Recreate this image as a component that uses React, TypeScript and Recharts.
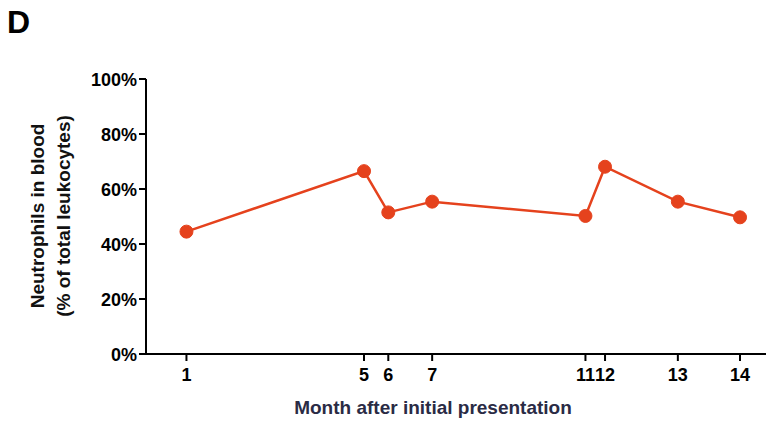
import { LineChart, Line, XAxis, YAxis } from "recharts";

// sampling time expressed on the plotted month scale (visits are not evenly spaced)
const timePoints = [1, 5.17, 5.74, 6.77, 10.37, 10.83, 12.54, 14];
const monthLabels = ["1", "5", "6", "7", "11", "12", "13", "14"];
const neutrophilPct = [44.5, 66.5, 51.5, 55.4, 50.2, 68.1, 55.4, 49.7];
const yTicks = [0, 20, 40, 60, 80, 100];

const data = timePoints.map((t, i) => ({ t, pct: neutrophilPct[i] }));

const RED = "#E5421D";
const FONT = "'Liberation Sans', Arial, Helvetica, sans-serif";

const labelFor = (t: number) => {
  const i = timePoints.indexOf(t);
  return i >= 0 ? monthLabels[i] : "";
};

function YLabel() {
  return (
    <text
      transform="translate(0, 216) rotate(-90)"
      textAnchor="middle"
      fontFamily={FONT}
      fontWeight="bold"
      fontSize={19}
      fill="#111"
    >
      <tspan x={0} y={44}>Neutrophils in blood</tspan>
      <tspan x={0} y={70}>(% of total leukocytes)</tspan>
    </text>
  );
}

function XLabel() {
  return (
    <text
      x={433}
      y={414}
      textAnchor="middle"
      fontFamily={FONT}
      fontWeight="bold"
      fontSize={19}
      fill="#2a2b45"
    >
      Month after initial presentation
    </text>
  );
}

export default function App() {
  return (
    <div style={{ position: "absolute", left: 0, top: 0, width: 766, height: 422, background: "#fff" }}>
      <svg width={60} height={44} style={{ position: "absolute", left: 0, top: 0 }}>
        <text x={7} y={33} fontFamily={FONT} fontWeight="bold" fontSize={32} fill="#000">D</text>
      </svg>
      <LineChart
        width={766}
        height={422}
        data={data}
        margin={{ top: 79, right: 0, bottom: 0, left: 0 }}
      >
        <XAxis
          type="number"
          dataKey="t"
          domain={[0.05, 14.61]}
          ticks={timePoints}
          interval={0}
          height={68}
          tickFormatter={labelFor}
          stroke="#000"
          strokeWidth={2}
          tickSize={7}
          tick={{ fill: "#000", fontSize: 18, fontWeight: "bold", fontFamily: FONT, dy: 5 }}
          allowDataOverflow
          label={{ content: () => <XLabel /> }}
        />
        <YAxis
          type="number"
          domain={[0, 100]}
          ticks={yTicks}
          interval={0}
          width={146}
          tickFormatter={(v: number) => `${v}%`}
          stroke="#000"
          strokeWidth={2}
          tickSize={7}
          tick={{ fill: "#000", fontSize: 18, fontWeight: "bold", fontFamily: FONT, dy: 1 }}
          label={{ content: () => <YLabel /> }}
        />
        <Line
          type="linear"
          dataKey="pct"
          stroke={RED}
          strokeWidth={2.5}
          dot={{ r: 6.5, fill: RED, stroke: RED, strokeWidth: 1 }}
          isAnimationActive={false}
        />
      </LineChart>
    </div>
  );
}
